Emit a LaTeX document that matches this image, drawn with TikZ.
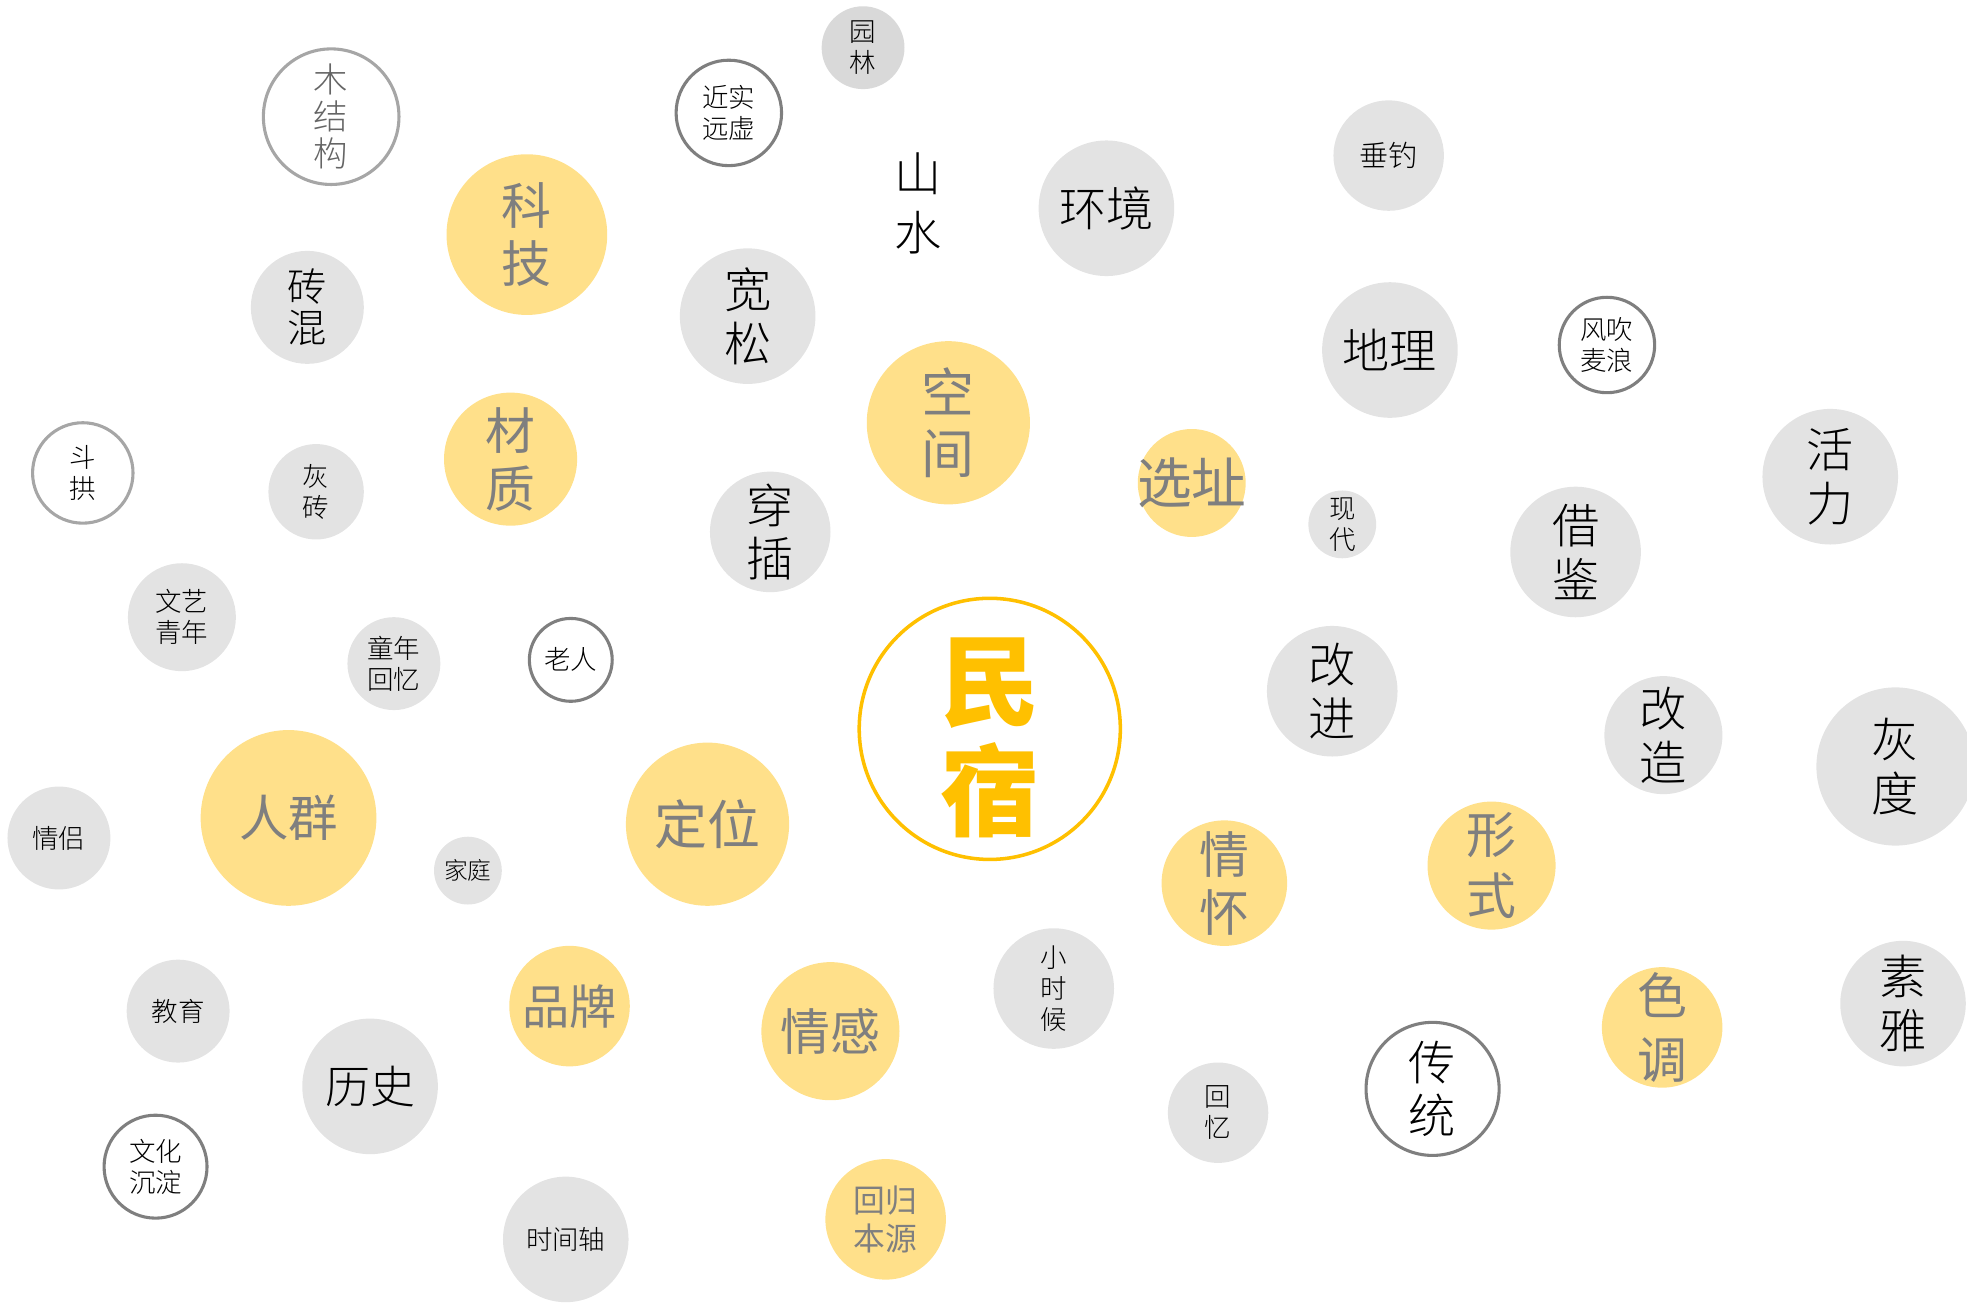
\documentclass[tikz,border=0pt]{standalone}
\usepackage{fontspec}
\setmainfont{Noto Sans CJK SC}
\newfontfamily\thinfont{Noto Sans CJK SC Light}
\definecolor{bubgray}{HTML}{E3E3E3}
\definecolor{bubdark}{HTML}{D9D9D9}
\definecolor{bubyellow}{HTML}{FFE08A}
\definecolor{ytext}{HTML}{7F7F7F}
\definecolor{ringlight}{HTML}{A6A6A6}
\definecolor{ringdark}{HTML}{7F7F7F}
\definecolor{gold}{HTML}{FFC000}
\tikzset{
	bub/.style={circle,inner sep=0pt,align=center,minimum size=#1*0.02cm},
	gbub/.style={bub=#1,fill=bubgray,text=black},
	ybub/.style={bub=#1,fill=bubyellow,text=ytext},
	obub/.style={bub=#1,draw=ringdark,line width=0.7pt,text=black},
	small/.style={font=\thinfont\fontsize{6}{7.1}\selectfont},
	mid/.style={font=\thinfont\fontsize{7.8}{8.4}\selectfont},
	big/.style={font=\thinfont\fontsize{10.7}{12.2}\selectfont},
	ybig/.style={font=\fontsize{11.3}{13.1}\selectfont}
}
\begin{document}
\begin{tikzpicture}[x=0.01cm,y=-0.01cm]
		\useasboundingbox (0,0) rectangle (1568,1038);

		\node[bub=104,draw=gold,line width=0.8pt,fill=white,label={[text=gold,align=center,yshift=-0.07cm,font=\fontsize{22.5}{25}\selectfont\bfseries]center:{民\\宿}}] (minsu) at (789,581) {};

		\node[ybub=64,ybig] (keji) at (420,187) {科\\技};
		\node[ybub=65,font=\fontsize{12}{13.7}\selectfont] (kongjian) at (756,337) {空\\间};
		\node[ybub=53,ybig] (caizhi) at (407,366) {材\\质};
		\node[ybub=43,label={[text=ytext,font=\fontsize{12.4}{12.4}\selectfont]center:选址}] (xuanzhi) at (950,385) {};
		\node[ybub=70,font=\fontsize{11.2}{11.2}\selectfont] (renqun) at (230,652) {人群};
		\node[ybub=65,font=\fontsize{12}{12}\selectfont] (dingwei) at (564,657) {定位};
		\node[ybub=50,ybig] (qinghuai) at (976,704) {情\\怀};
		\node[ybub=51,font=\fontsize{11.3}{14}\selectfont] (xingshi) at (1189,690) {形\\式};
		\node[ybub=48,font=\fontsize{10.7}{10.7}\selectfont] (pinpai) at (454,802) {品牌};
		\node[ybub=55,font=\fontsize{11.3}{11.3}\selectfont] (qinggan) at (662,822) {情感};
		\node[ybub=48,font=\fontsize{11.3}{14.4}\selectfont] (sediao) at (1325,819) {色\\调};
		\node[ybub=48,font=\fontsize{7.2}{8.8}\selectfont] (huigui) at (706,972) {回归\\本源};

		\node[gbub=33,fill=bubdark,small] (yuanlin) at (688,38) {园\\林};
		\node[gbub=54,big] (huanjing) at (882,166) {环境};
		\node[gbub=44,font=\thinfont\fontsize{6.6}{6.6}\selectfont] (chuidiao) at (1107,124) {垂钓};
		\node[gbub=45,font=\thinfont\fontsize{8.9}{9.4}\selectfont] (zhuanhun) at (245,245) {砖\\混};
		\node[gbub=54,big] (kuansong) at (596,252) {宽\\松};
		\node[gbub=54,big] (dili) at (1108,279) {地理};
		\node[gbub=38,small] (huizhuan) at (252,392) {灰\\砖};
		\node[gbub=48,big] (chuancha) at (614,424) {穿\\插};
		\node[gbub=27,small] (xiandai) at (1070,418) {现\\代};
		\node[gbub=52,big] (jiejian) at (1256,440) {借\\鉴};
		\node[gbub=54,big] (huoli) at (1459,380) {活\\力};
		\node[gbub=43,small] (wenyi) at (145,492) {文艺\\青年};
		\node[gbub=37,small] (tongnian) at (314,529) {童年\\回忆};
		\node[gbub=52,big] (gaijin) at (1062,551) {改\\进};
		\node[gbub=47,big] (gaizao) at (1326,586) {改\\造};
		\node[gbub=63,big] (huidu) at (1511,611) {灰\\度};
		\node[gbub=41,small] (qinglv) at (47,668) {情侣};
		\node[gbub=27,font=\thinfont\fontsize{5.4}{5.4}\selectfont] (jiating) at (373,694) {家庭};
		\node[gbub=41,small] (jiaoyu) at (142,806) {教育};
		\node[gbub=48,small] (xiaoshihou) at (840,788) {小\\时\\候};
		\node[gbub=50,big] (suya) at (1517,800) {素\\雅};
		\node[gbub=54,font=\thinfont\fontsize{10.2}{10.2}\selectfont] (lishi) at (295,866) {历史};
		\node[gbub=40,small] (huiyi) at (971,887) {回\\忆};
		\node[gbub=50,small] (shijianzhou) at (451,988) {时间轴};

		\node[obub=54,draw=ringlight,text=ytext!80!black,mid] (mujiegou) at (264,93) {木\\结\\构};
		\node[obub=42,small] (jinshi) at (581,90) {近实\\远虚};
		\node[obub=38,small] (fengchui) at (1281,275) {风吹\\麦浪};
		\node[obub=40,draw=ringlight,small] (dougong) at (66,377) {斗\\拱};
		\node[obub=33,small] (laoren) at (455,526) {老人};
		\node[obub=53,big] (chuantong) at (1142,868) {传\\统};
		\node[obub=41,small] (wenhua) at (124,930) {文化\\沉淀};

		\node[align=center,font=\thinfont\fontsize{10.7}{13.5}\selectfont] (shanshui) at (732,162) {山\\水};
	\end{tikzpicture}
\end{document}
